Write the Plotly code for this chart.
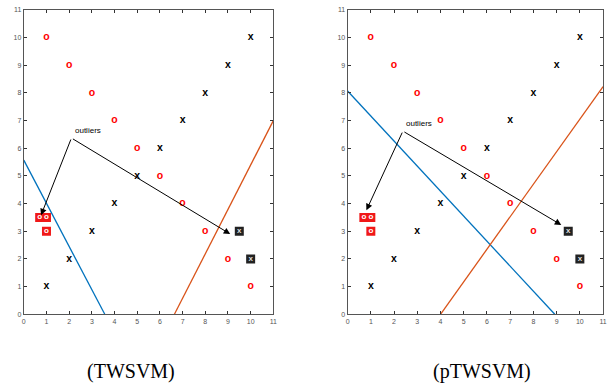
import plotly.graph_objects as go

# ---------------- data ----------------
class1_x = [1, 2, 3, 4, 5, 6, 7, 8, 9, 10]
class1_y = [10, 9, 8, 7, 6, 5, 4, 3, 2, 1]
class2_x = [1, 2, 3, 4, 5, 6, 7, 8, 9, 10]
class2_y = [1, 2, 3, 4, 5, 6, 7, 8, 9, 10]
out1_x = [0.7, 1.0, 1.0]
out1_y = [3.5, 3.5, 3.0]
out2_x = [9.5, 10.0]
out2_y = [3.0, 2.0]

# hyperplanes: endpoints of each line per panel
tw_blue_x = [0, 3.57]
tw_blue_y = [5.57, 0]
tw_orange_x = [6.64, 11]
tw_orange_y = [0, 7.0]
ptw_blue_x = [0, 8.92]
ptw_blue_y = [8.07, 0]
ptw_orange_x = [4.0, 11]
ptw_orange_y = [0, 8.23]

# arrows: tail (origin) and heads
tw_origin = (2.1, 6.37)
tw_heads = [(0.76, 3.58), (9.1, 2.9)]
ptw_origin = (2.38, 6.62)
ptw_heads = [(0.81, 3.76), (9.2, 3.23)]

ticks = list(range(0, 12))
titles = ["(TWSVM)", "(pTWSVM)"]

W, H = 616, 388
panels = [
    dict(x0=22, x1=274, y0=6, y1=316),
    dict(x0=349, x1=607, y0=6, y1=316),
]

fig = go.Figure()

blue = "#0072BD"
orange = "#D95319"
mfont = dict(family="Liberation Sans, Arial", size=10.5, color="red")
xfont = dict(family="Liberation Sans, Arial", size=10.5, color="black")

lines = [
    ((tw_blue_x, tw_blue_y), (tw_orange_x, tw_orange_y)),
    ((ptw_blue_x, ptw_blue_y), (ptw_orange_x, ptw_orange_y)),
]
arrows = [(tw_origin, tw_heads), (ptw_origin, ptw_heads)]

for i in range(2):
    xa = "x" if i == 0 else "x2"
    ya = "y" if i == 0 else "y2"
    (bx, by), (ox, oy) = lines[i]
    fig.add_trace(go.Scatter(x=bx, y=by, mode="lines", line=dict(color=blue, width=1.3),
                             xaxis=xa, yaxis=ya, showlegend=False, hoverinfo="skip"))
    fig.add_trace(go.Scatter(x=ox, y=oy, mode="lines", line=dict(color=orange, width=1.3),
                             xaxis=xa, yaxis=ya, showlegend=False, hoverinfo="skip"))
    fig.add_trace(go.Scatter(x=class1_x, y=class1_y, mode="text", text=["<b>o</b>"] * len(class1_x),
                             textfont=mfont, textposition="middle center",
                             xaxis=xa, yaxis=ya, showlegend=False, hoverinfo="skip"))
    fig.add_trace(go.Scatter(x=class2_x, y=class2_y, mode="text", text=["<b>x</b>"] * len(class2_x),
                             textfont=xfont, textposition="middle center",
                             xaxis=xa, yaxis=ya, showlegend=False, hoverinfo="skip"))
    fig.add_trace(go.Scatter(x=out1_x, y=out1_y, mode="markers+text", text=["<b>o</b>"] * len(out1_x),
                             marker=dict(symbol="square", size=9, color="#F01818", line=dict(width=0)),
                             textfont=dict(family="Liberation Sans, Arial", size=8, color="white"),
                             textposition="middle center",
                             xaxis=xa, yaxis=ya, showlegend=False, hoverinfo="skip"))
    fig.add_trace(go.Scatter(x=out2_x, y=out2_y, mode="markers+text", text=["<b>x</b>"] * len(out2_x),
                             marker=dict(symbol="square", size=9, color="#222222", line=dict(width=0)),
                             textfont=dict(family="Liberation Sans, Arial", size=8, color="#dddddd"),
                             textposition="middle center",
                             xaxis=xa, yaxis=ya, showlegend=False, hoverinfo="skip"))
    origin, heads = arrows[i]
    for hx, hy in heads:
        fig.add_annotation(x=hx, y=hy, ax=origin[0], ay=origin[1], xref=xa, yref=ya,
                           axref=xa, ayref=ya, text="", showarrow=True,
                           arrowhead=2, arrowsize=1.3, arrowwidth=1, arrowcolor="black")
    fig.add_annotation(x=origin[0] + 0.05, y=origin[1] + 0.05, xref=xa, yref=ya, text="outliers",
                       showarrow=False, xanchor="left", yanchor="bottom",
                       font=dict(family="Liberation Sans Narrow, Liberation Sans", size=8, color="black"))
    cx = 130 if i == 0 else 485
    fig.add_annotation(x=cx / W, y=1 - 374 / H, xref="paper", yref="paper", text=titles[i],
                       showarrow=False, xanchor="center", yanchor="middle",
                       font=dict(family="Liberation Serif, Times New Roman", size=20, color="black"))

axis_common = dict(range=[0, 11], tickvals=ticks, ticktext=[str(t) for t in ticks],
                   ticks="inside", ticklen=3, tickwidth=1, tickcolor="#333",
                   showline=True, linecolor="#555", linewidth=1, mirror="allticks",
                   showgrid=False, zeroline=False, fixedrange=True,
                   tickfont=dict(family="Liberation Sans Narrow, Liberation Sans", size=7, color="#555"))

layout = dict(width=W, height=H, margin=dict(l=0, r=0, t=0, b=0),
              paper_bgcolor="white", plot_bgcolor="white", showlegend=False,
              hovermode=False)
for i, p in enumerate(panels):
    sx = "" if i == 0 else "2"
    layout["xaxis" + sx] = dict(axis_common, domain=[p["x0"] / W, p["x1"] / W],
                                anchor="y" + sx)
    layout["yaxis" + sx] = dict(axis_common, domain=[1 - p["y1"] / H, 1 - p["y0"] / H],
                                anchor="x" + sx)
fig.update_layout(**layout)

fig.write_html("out.html", config={"displayModeBar": False, "staticPlot": True},
               post_script="document.body.style.margin='0';document.body.style.overflow='hidden';")
